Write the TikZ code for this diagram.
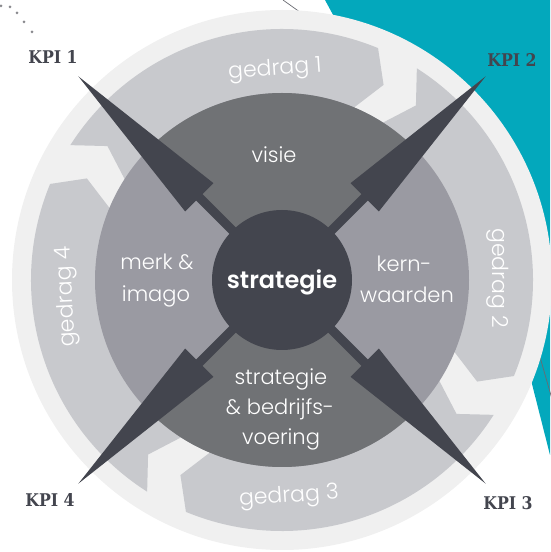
\documentclass[tikz,border=0pt]{standalone}
\usepackage{fontspec}
\newfontfamily\popl{Poppins Light}
\IfFontExistsTF{Poppins SemiBold}{\newfontfamily\popsb{Poppins SemiBold}}{\newfontfamily\popsb{Poppins Bold}}
\IfFontExistsTF{DejaVu Serif Condensed}{\newfontfamily\kpif{DejaVu Serif Condensed}}{\newfontfamily\kpif{DejaVu Serif}}
\definecolor{tealbg}{HTML}{03A8BC}
\definecolor{ringc}{HTML}{F0F0F0}
\definecolor{bandc}{HTML}{C8C9CD}
\definecolor{midc}{HTML}{9A9AA2}
\definecolor{quadc}{HTML}{707275}
\definecolor{kdark}{HTML}{43454E}
\definecolor{dotc}{HTML}{8A8A8E}
\begin{document}
\begin{tikzpicture}[x=1pt,y=1pt,
  lbl/.style={text=white,font=\popl\fontsize{21}{21}\selectfont,inner sep=0pt,anchor=base},
  gd/.style={text=white,font=\popl\fontsize{22}{22}\selectfont,inner sep=0pt},
  core/.style={text=white,font=\popsb\fontsize{24}{24}\selectfont,inner sep=0pt,anchor=base},
  kpi/.style={text=kdark,font=\kpif\bfseries\fontsize{17.5}{17.5}\selectfont,inner sep=0pt},
  thinline/.style={draw=kdark!80,line width=0.7pt},
  arrowband/.style={fill=bandc},
  needle/.style={fill=kdark}]
\useasboundingbox (0,0) rectangle (550,552);
% background decorations
\fill[tealbg] (325,552) -- (550,552) -- (550,97) -- (531,172) -- cycle;
\draw[thinline] (283,552) -- (311,532);
\draw[thinline] (528,237) -- (552,153);
\foreach \p in {(1,546),(10,545),(17,539),(24,530),(32,520)}
  \fill[dotc] \p circle[radius=1.5];
\coordinate (C) at (282,272);
% outer light ring
\fill[ringc] (C) circle[radius=270];
% four curved arrows
\begin{scope}[shift={(C)}]
\foreach \h in {67.5,-22.5,-112.5,-202.5}{
  \pgfmathsetmacro{\t}{\h+80}
  \fill[arrowband] (\t:251) arc[start angle=\t, end angle=\h, radius=251]
    -- (\h-5:220) -- (\h:186) arc[start angle=\h, end angle=\t, radius=186]
    -- (\t-5:220) -- cycle;
}
% inner disc and quadrants
\fill[midc] (0,0) circle[radius=187];
\fill[quadc] (0,0) -- (45:187) arc[start angle=45, end angle=135, radius=187] -- cycle;
\fill[quadc] (0,0) -- (225:187) arc[start angle=225, end angle=315, radius=187] -- cycle;
% cross lines and needles
\foreach \a in {45,135,225,315}{
  \begin{scope}[rotate=\a]
    \fill[needle] (0,-4.5) rectangle (125,4.5);
    \fill[needle] (117,20) -- (288,0) -- (117,-20) -- cycle;
  \end{scope}
}
\end{scope}
\node[fill=kdark,circle,minimum size=140pt,inner sep=0pt] (centre) at (C) {};
% texts
\node[core] (strat) at (282,263) {strategie};
\node[lbl] (visie) at (274,389) {visie};
\node[lbl] (merk) at (157,282) {merk \&};
\node[lbl] (imago) at (156,250) {imago};
\node[lbl] (kern) at (404,280) {kern-};
\node[lbl] (waarden) at (407,249) {waarden};
\node[lbl] (s1) at (281,167) {strategie};
\node[lbl] (s2) at (280,137) {\& bedrijfs-};
\node[lbl] (s3) at (281,107) {voering};
\node[gd,rotate=4] (g1) at (275,482) {gedrag 1};
\node[gd,rotate=-90] (g2) at (498,274) {gedrag 2};
\node[gd,rotate=4] (g3) at (289,55) {gedrag 3};
\node[gd,rotate=93] (g4) at (67,255) {gedrag 4};
\node[kpi] (k1) at (53,495) {KPI 1};
\node[kpi] (k2) at (512,492) {KPI 2};
\node[kpi] (k3) at (508,49) {KPI 3};
\node[kpi] (k4) at (50,52) {KPI 4};
\end{tikzpicture}
\end{document}
